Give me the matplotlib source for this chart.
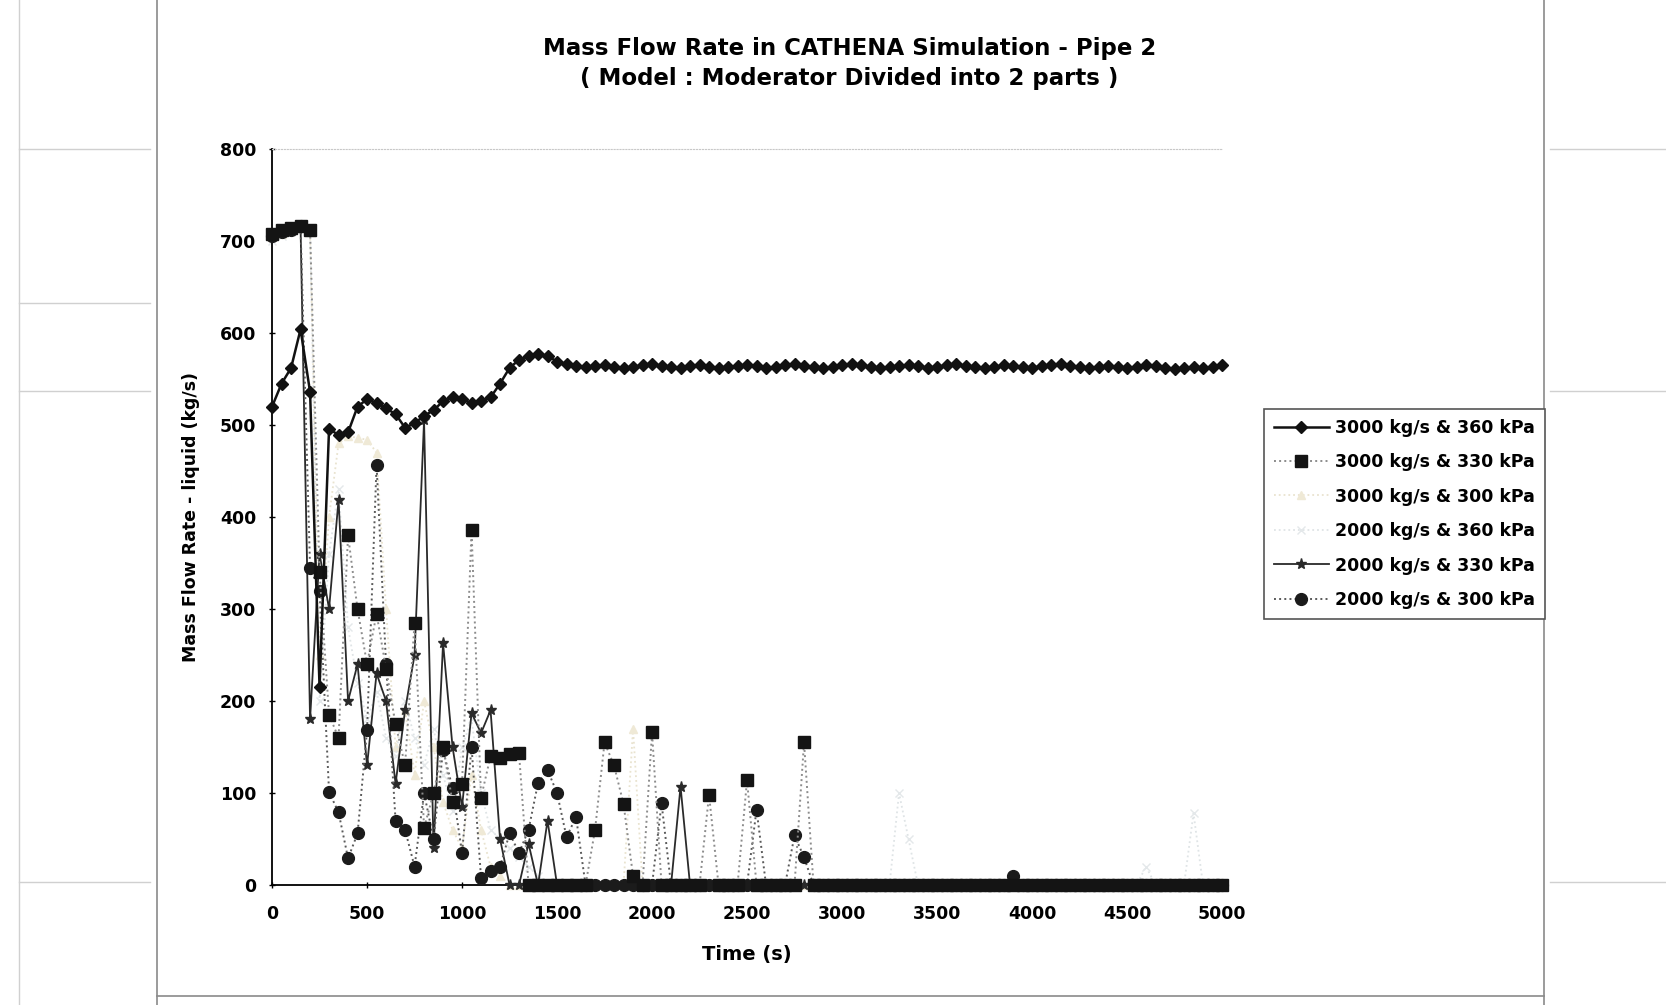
import numpy as np
import matplotlib

matplotlib.use("Agg")
import matplotlib.pyplot as plt
from matplotlib.lines import Line2D

plt.rcParams["font.family"] = ["DejaVu Sans"]
plt.rcParams["font.weight"] = "bold"

# CATHENA output, sampled every 50 s from 0 to 5000 s
time_step_s = 50
time_s = np.arange(0, 5000 + time_step_s, time_step_s)

# liquid mass flow rate in pipe 2 (kg/s)
flow_3000_360 = [
    520, 545, 562, 604, 536, 215, 496, 489, 492, 520,
    528, 524, 518, 512, 497, 502, 510, 516, 526, 530,
    528, 524, 526, 530, 545, 562, 571, 575, 577, 575,
    569, 566, 564, 563, 564, 565, 563, 562, 563, 565,
    566, 564, 563, 562, 564, 565, 563, 562, 563, 564,
    565, 564, 562, 563, 565, 566, 564, 563, 562, 563,
    565, 566, 565, 563, 562, 563, 564, 565, 564, 562,
    563, 565, 566, 564, 563, 562, 563, 565, 564, 563,
    562, 564, 565, 566, 564, 563, 562, 563, 564, 563,
    562, 563, 565, 564, 562, 561, 562, 563, 562, 563,
    565,
]
flow_3000_330 = [
    708, 712, 714, 716, 712, 340, 185, 160, 380, 300,
    240, 295, 235, 175, 130, 285, 62, 100, 150, 90,
    110, 386, 95, 140, 138, 142, 143, 0, 0, 0,
    0, 0, 0, 0, 60, 155, 130, 88, 10, 0,
    166, 0, 0, 0, 0, 0, 98, 0, 0, 0,
    114, 0, 0, 0, 0, 0, 155, 0, 0, 0,
    0, 0, 0, 0, 0, 0, 0, 0, 0, 0,
    0, 0, 0, 0, 0, 0, 0, 0, 0, 0,
    0, 0, 0, 0, 0, 0, 0, 0, 0, 0,
    0, 0, 0, 0, 0, 0, 0, 0, 0, 0,
    0,
]
flow_3000_300 = [
    704, 708, 712, 715, 710, 250, 400, 480, 488, 486,
    484, 470, 300, 150, 190, 120, 200, 150, 90, 60,
    40, 120, 60, 20, 10, 0, 0, 0, 0, 0,
    0, 0, 0, 0, 0, 0, 0, 0, 170, 0,
    0, 0, 0, 0, 0, 0, 0, 0, 0, 0,
    0, 0, 0, 0, 0, 0, 0, 0, 0, 0,
    0, 0, 0, 0, 0, 0, 0, 0, 0, 0,
    0, 0, 0, 0, 0, 0, 0, 0, 0, 0,
    0, 0, 0, 0, 0, 0, 0, 0, 0, 0,
    0, 0, 0, 0, 0, 0, 0, 0, 0, 0,
    0,
]
flow_2000_360 = [
    700, 705, 710, 714, 712, 200, 360, 430, 280, 220,
    180, 210, 160, 140, 200, 160, 130, 170, 120, 80,
    150, 180, 100, 60, 50, 40, 30, 20, 10, 0,
    0, 0, 0, 0, 0, 0, 0, 0, 0, 0,
    0, 0, 0, 0, 0, 0, 0, 0, 0, 0,
    0, 0, 0, 0, 0, 0, 0, 0, 0, 0,
    0, 0, 0, 0, 0, 0, 100, 50, 0, 0,
    0, 0, 0, 0, 0, 0, 0, 0, 0, 0,
    0, 0, 0, 0, 0, 0, 0, 0, 0, 0,
    0, 0, 20, 0, 0, 0, 0, 78, 0, 0,
    0,
]
flow_2000_330 = [
    705, 709, 713, 715, 180, 360, 300, 419, 200, 240,
    130, 230, 200, 110, 190, 250, 505, 40, 263, 150,
    85, 187, 165, 190, 50, 0, 0, 45, 0, 70,
    0, 0, 0, 0, 0, 0, 0, 0, 0, 0,
    0, 0, 0, 107, 0, 0, 0, 0, 0, 0,
    0, 0, 0, 0, 0, 0, 0, 0, 0, 0,
    0, 0, 0, 0, 0, 0, 0, 0, 0, 0,
    0, 0, 0, 0, 0, 0, 0, 0, 0, 0,
    0, 0, 0, 0, 0, 0, 0, 0, 0, 0,
    0, 0, 0, 0, 0, 0, 0, 0, 0, 0,
    0,
]
flow_2000_300 = [
    706, 710, 712, 716, 345, 320, 101, 79, 29, 56,
    168, 457, 240, 70, 60, 20, 100, 50, 147, 105,
    35, 150, 8, 15, 20, 56, 35, 60, 111, 125,
    100, 52, 74, 0, 0, 0, 0, 0, 0, 0,
    0, 89, 0, 0, 0, 0, 0, 0, 0, 0,
    0, 82, 0, 0, 0, 54, 30, 0, 0, 0,
    0, 0, 0, 0, 0, 0, 0, 0, 0, 0,
    0, 0, 0, 0, 0, 0, 0, 0, 10, 0,
    0, 0, 0, 0, 0, 0, 0, 0, 0, 0,
    0, 0, 0, 0, 0, 0, 0, 0, 0, 0,
    0,
]

case_labels = [
    "3000 kg/s & 360 kPa",
    "3000 kg/s & 330 kPa",
    "3000 kg/s & 300 kPa",
    "2000 kg/s & 360 kPa",
    "2000 kg/s & 330 kPa",
    "2000 kg/s & 300 kPa",
]

# line / marker style per case (drawn order follows the legend)
styles = [
    dict(color="#111111", ls="-", lw=1.8, marker="D", ms=6.5, mfc="#111111", mec="#111111", zorder=6),
    dict(color="#8c8c8c", ls=":", lw=1.4, marker="s", ms=9, mfc="#141414", mec="#141414", zorder=5),
    dict(color="#e9e3cf", ls=":", lw=1.3, marker="^", ms=6, mfc="#efe9d6", mec="#efe9d6", zorder=2),
    dict(color="#dfe4e6", ls=":", lw=1.3, marker="x", ms=6, mfc="#e4e8ea", mec="#e4e8ea", zorder=2),
    dict(color="#2a2a2a", ls="-", lw=1.3, marker="*", ms=8, mfc="#2a2a2a", mec="#2a2a2a", zorder=4),
    dict(color="#5a5a5a", ls=":", lw=1.4, marker="o", ms=8.5, mfc="#1b1b1b", mec="#1b1b1b", zorder=4),
]


def main():
    series = [flow_3000_360, flow_3000_330, flow_3000_300,
              flow_2000_360, flow_2000_330, flow_2000_300]

    fig = plt.figure(figsize=(16.66, 10.05), dpi=100)
    ax = fig.add_axes([0.1633, 0.1194, 0.5702, 0.7323])

    handles = []
    for values, label, st in zip(series, case_labels, styles):
        (h,) = ax.plot(time_s, values, label=label, clip_on=False, **st)
        handles.append(h)

    ax.set_xlim(0, 5000)
    ax.set_ylim(0, 800)
    ax.set_xticks(np.arange(0, 5001, 500))
    ax.set_yticks(np.arange(0, 801, 100))
    ax.tick_params(axis="both", direction="inout", length=5, width=1, labelsize=12.5)
    ax.tick_params(axis="y", pad=9)
    ax.tick_params(axis="x", pad=12)
    for lab in ax.get_xticklabels() + ax.get_yticklabels():
        lab.set_fontweight("bold")

    ax.spines["right"].set_visible(False)
    ax.spines["top"].set_color("#c8c8c8")
    ax.spines["top"].set_linestyle(":")
    ax.spines["left"].set_linewidth(1.3)
    ax.spines["bottom"].set_linewidth(1.3)

    ax.set_xlabel("Time (s)", fontsize=14, fontweight="bold")
    ax.set_ylabel("Mass Flow Rate - liquid (kg/s)", fontsize=12.5, fontweight="bold")
    ax.xaxis.set_label_coords(0.5, -0.081)
    ax.yaxis.set_label_coords(-0.076, 0.5)

    fig.text(0.510, 0.952, "Mass Flow Rate in CATHENA Simulation - Pipe 2",
             ha="center", va="center", fontsize=16.5, fontweight="bold")
    fig.text(0.510, 0.922, "( Model : Moderator Divided into 2 parts )",
             ha="center", va="center", fontsize=16.5, fontweight="bold")

    leg = fig.legend(
        handles=handles,
        loc="upper left",
        bbox_to_anchor=(0.7587, 0.593),
        bbox_transform=fig.transFigure,
        borderaxespad=0,
        prop={"size": 12.5, "weight": "bold"},
        handlelength=3.2,
        handletextpad=0.35,
        labelspacing=0.95,
        borderpad=0.55,
        fancybox=False,
        framealpha=1,
        edgecolor="#555555",
    )
    leg.get_frame().set_linewidth(1.2)

    # chart area border and sheet gridlines around it
    border = dict(transform=fig.transFigure, color="#8a8a8a", lw=1.2)
    fig.add_artist(Line2D([157 / 1666, 157 / 1666], [0.0, 1.0], **border))
    fig.add_artist(Line2D([1544 / 1666, 1544 / 1666], [0.0, 1.0], **border))
    fig.add_artist(Line2D([157 / 1666, 1544 / 1666], [0.009, 0.009], **border))
    grid = dict(transform=fig.transFigure, color="#d0d0d0", lw=1.0)
    fig.add_artist(Line2D([19 / 1666, 19 / 1666], [0.0, 1.0], **grid))
    for y_px in [149, 303, 391, 882]:
        y = 1 - y_px / 1005
        fig.add_artist(Line2D([19 / 1666, 150 / 1666], [y, y], **grid))
    for y_px in [149, 391, 882]:
        y = 1 - y_px / 1005
        fig.add_artist(Line2D([1550 / 1666, 1.0], [y, y], **grid))

    fig.savefig("out.png", dpi=100)


if __name__ == "__main__":
    main()
